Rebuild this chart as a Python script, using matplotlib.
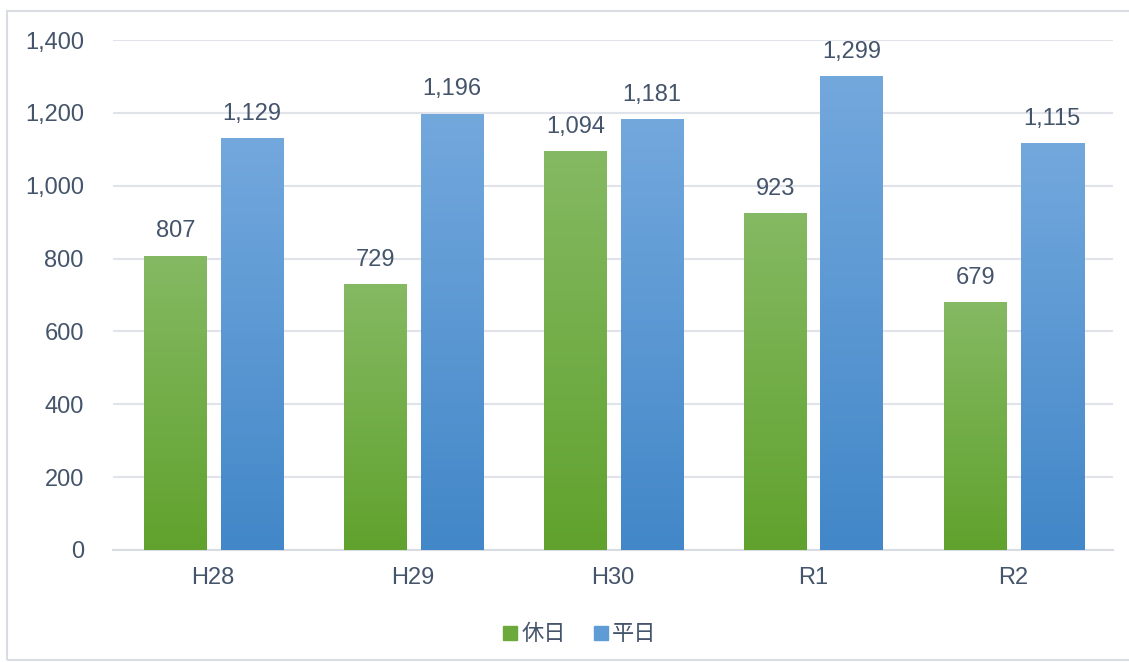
import numpy as np
import matplotlib.pyplot as plt
from matplotlib.patches import Rectangle, Patch
from matplotlib.colors import LinearSegmentedColormap

# === Data ===
categories = ["H28", "H29", "H30", "R1", "R2"]
holiday = [807, 729, 1094, 923, 679]    # 休日
weekday = [1129, 1196, 1181, 1299, 1115]  # 平日
series_names = ["休日", "平日"]

W, H = 1129, 662
fig = plt.figure(figsize=(W / 100, H / 100), dpi=100)
ax = fig.add_axes([113 / W, (H - 550) / H, 1000 / W, 510 / H])

text_color = "#44546a"
grid_color = "#e0e3ea"
font = ["Liberation Sans", "Noto Sans CJK JP", "DejaVu Sans"]
fs = 17

green_cmap = LinearSegmentedColormap.from_list("g", ["#60a22d", "#85b963"])
blue_cmap = LinearSegmentedColormap.from_list("b", ["#4287c8", "#73a8dd"])

x = np.arange(len(categories))
bw = 0.315
offsets = (-0.1875, 0.195)
grad = np.linspace(0, 1, 256).reshape(-1, 1)

for vals, off, cmap in [(holiday, offsets[0], green_cmap),
                        (weekday, offsets[1], blue_cmap)]:
    bars = ax.bar(x + off, vals, bw, color=cmap(0.5), zorder=2)
    for b, v in zip(bars, vals):
        x0 = b.get_x()
        # gradient fill drawn inside each bar
        ax.imshow(grad, cmap=cmap, origin="lower", aspect="auto",
                  extent=(x0, x0 + bw, 0, v), zorder=3)
        ax.text(x0 + bw / 2, v + 38, f"{v:,}", ha="center", va="bottom",
                fontsize=fs, color=text_color, family=font)

ax.set_xlim(-0.5, len(categories) - 0.5)
ax.set_ylim(0, 1400)
ax.set_yticks(range(0, 1401, 200))
ax.set_yticklabels([f"{t:,}" for t in range(0, 1401, 200)])
ax.set_xticks(x)
ax.set_xticklabels(categories)
ax.tick_params(length=0, labelsize=fs, colors=text_color, pad=12)
ax.tick_params(axis="y", pad=21)
for lab in ax.get_xticklabels() + ax.get_yticklabels():
    lab.set_family(font)

ax.grid(axis="y", color=grid_color, linewidth=1.5, zorder=0)
for s in ["top", "right", "left"]:
    ax.spines[s].set_visible(False)
ax.spines["bottom"].set_color("#d9dce3")
ax.spines["bottom"].set_linewidth(1.5)

handles = [Patch(color=green_cmap(0.3)), Patch(color=blue_cmap(0.6))]
leg = fig.legend(handles, series_names, loc="center", bbox_to_anchor=(580 / W, (H - 634) / H),
                 ncol=2, frameon=False, handlelength=0.6, handleheight=0.6,
                 handletextpad=0.2, columnspacing=1.3,
                 prop={"family": ["Noto Sans CJK JP", "DejaVu Sans"], "size": 16})
for t in leg.get_texts():
    t.set_color(text_color)

fig.patches.append(Rectangle((7 / W, 2 / H), 1.1, (H - 13) / H, transform=fig.transFigure,
                             fill=False, edgecolor="#d9dce3", linewidth=1.5))

fig.savefig("out.png", dpi=100)
